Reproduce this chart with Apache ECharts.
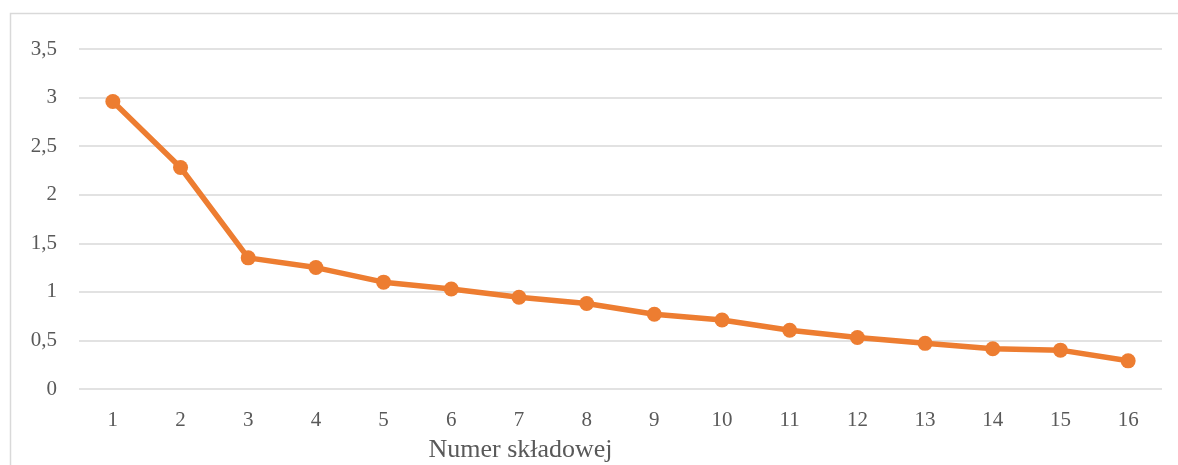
<!DOCTYPE html>
<html>
<head>
<meta charset="utf-8">
<script src="https://cdn.jsdelivr.net/npm/echarts@6/dist/echarts.min.js"></script>
<style>
  html, body { margin: 0; padding: 0; background: #fff; }
  #main { width: 1178px; height: 465px; }
</style>
</head>
<body>
<div id="main"></div>
<script>
// numery składowych i wartości własne
var categories = ['1','2','3','4','5','6','7','8','9','10','11','12','13','14','15','16'];
var values = [2.96, 2.28, 1.35, 1.25, 1.10, 1.03, 0.945, 0.88, 0.77, 0.71, 0.605, 0.53, 0.47, 0.415, 0.40, 0.29];
var axisName = 'Numer składowej';

var myChart = echarts.init(document.getElementById('main'));
var font = 'Liberation Serif';

myChart.setOption({
    animation: false,
    graphic: [{
        type: 'rect',
        left: 8, top: 11,
        shape: { width: 1300, height: 600 },
        style: { fill: 'none', stroke: '#d9d9d9', lineWidth: 1.5 },
        silent: true
    }],
    grid: { left: 79, right: 16, top: 49, bottom: 76, outerBoundsMode: 'none' },
    xAxis: {
        type: 'category',
        data: categories,
        boundaryGap: true,
        name: axisName,
        nameLocation: 'middle',
        nameGap: 48,
        nameTextStyle: {
            fontFamily: font, fontSize: 26, color: '#595959',
            padding: [0, 200, 0, 0]
        },
        axisLine: { show: false },
        axisTick: { show: false },
        axisLabel: { fontFamily: font, fontSize: 21, color: '#595959', margin: 21 }
    },
    yAxis: {
        type: 'value',
        min: 0, max: 3.5, interval: 0.5,
        axisLine: { show: false },
        axisTick: { show: false },
        axisLabel: {
            fontFamily: font, fontSize: 21, color: '#595959', margin: 22,
            formatter: function (v) { return String(v).replace('.', ','); }
        },
        splitLine: { lineStyle: { color: '#d9d9d9', width: 1.5 } }
    },
    series: [{
        type: 'line',
        data: values,
        symbol: 'circle',
        symbolSize: 15,
        lineStyle: { color: '#ED7D31', width: 5.5 },
        itemStyle: { color: '#ED7D31' }
    }]
});
</script>
</body>
</html>
